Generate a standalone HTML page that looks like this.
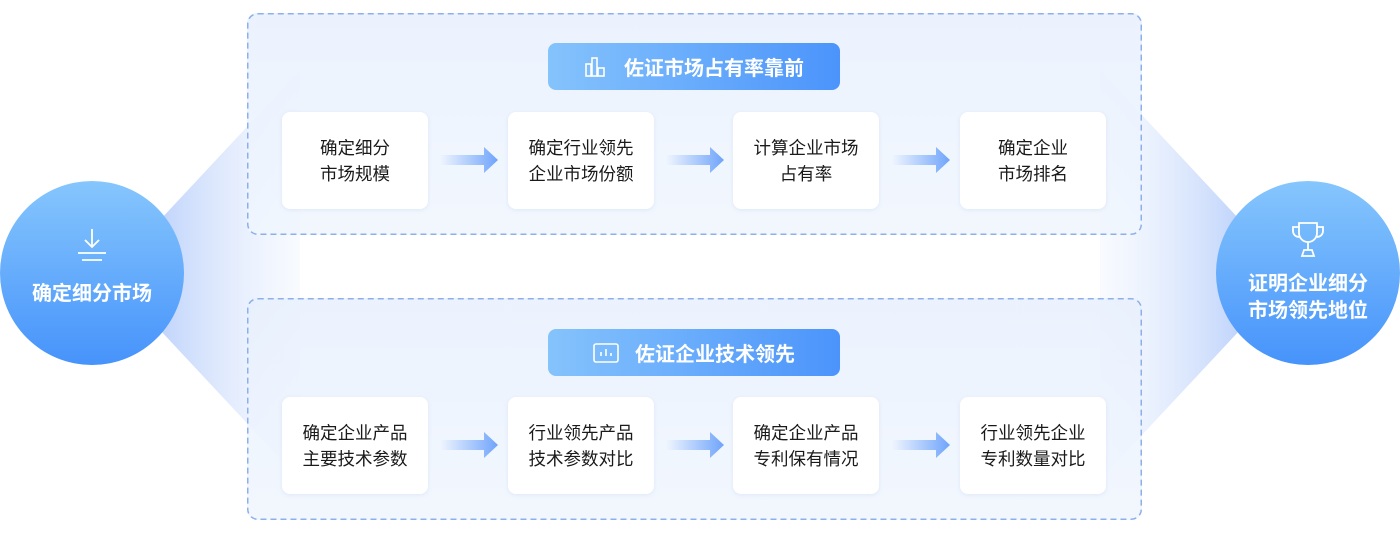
<!DOCTYPE html>
<html><head><meta charset="utf-8"><style>
body{margin:0;width:1400px;height:539px;background:#fff;position:relative;overflow:hidden;font-family:"Liberation Sans","Noto Sans CJK SC",sans-serif}
.panel{position:absolute;left:247px;width:895px;height:222px;border-radius:10px;background:linear-gradient(180deg,rgba(232,240,253,.85),rgba(240,246,254,.85))}
.pill{position:absolute;left:548px;width:292px;height:47px;border-radius:8px;background:linear-gradient(90deg,#85c3fc,#4b94fb);color:#fff;font-size:20px;font-weight:bold;display:flex;align-items:center;justify-content:center;gap:16px}
.card{position:absolute;width:146px;height:97px;background:#fff;border-radius:8px;box-shadow:0 1px 4px rgba(120,150,200,.15);display:flex;align-items:center;justify-content:center;text-align:center;font-size:17.5px;line-height:26px;color:#1a1a1a}
.circ{position:absolute;width:184px;height:184px;border-radius:50%;background:linear-gradient(180deg,#86c6fd,#4693fb);color:#fff;font-weight:bold;font-size:20px;text-align:center;line-height:27px}
</style></head><body>
<svg style="position:absolute;left:0;top:0" width="1400" height="539">
<defs>
<linearGradient id="gl" x1="0" x2="1"><stop offset="0" stop-color="#c0d4fb"/><stop offset="1" stop-color="#eef4fe" stop-opacity="0.4"/></linearGradient>
<linearGradient id="gr" x1="1" x2="0"><stop offset="0" stop-color="#c0d4fb"/><stop offset="1" stop-color="#eef4fe" stop-opacity="0.4"/></linearGradient>
<linearGradient id="ga" x1="0" x2="1"><stop offset="0" stop-color="#6fa4fb" stop-opacity="0"/><stop offset="1" stop-color="#6fa4fb"/></linearGradient>
</defs>
<polygon points="160,220 300,70 300,480 160,330" fill="url(#gl)"/>
<polygon points="1240,220 1100,70 1100,480 1240,330" fill="url(#gr)"/>
</svg>
<div class="panel" style="top:13px"></div>
<div class="panel" style="top:298px"></div>
<svg style="position:absolute;left:0;top:0" width="1400" height="539" fill="none" stroke="#8db0ea" stroke-width="1.5" stroke-dasharray="6 4">
<rect x="247.75" y="13.75" width="893.5" height="220.5" rx="10"/>
<rect x="247.75" y="298.75" width="893.5" height="220.5" rx="10"/>
</svg>
<div class="pill" style="top:43px"><svg width="24" height="22" viewBox="0 0 24 22" fill="none" stroke="#fff" stroke-width="1.6"><rect x="2" y="8" width="5" height="12"/><rect x="8" y="2" width="5" height="18"/><rect x="14" y="12" width="6" height="8"/></svg>佐证市场占有率靠前</div>
<div class="pill" style="top:329px"><svg width="26" height="20" viewBox="0 0 26 20" fill="none" stroke="#fff" stroke-width="1.6"><rect x="1" y="1" width="24" height="18" rx="2"/><line x1="8" y1="13" x2="8" y2="9"/><line x1="13" y1="13" x2="13" y2="6"/><line x1="18" y1="13" x2="18" y2="10"/></svg>佐证企业技术领先</div>

<div class="card" style="left:282px;top:112px">确定细分<br>市场规模</div>
<div class="card" style="left:508px;top:112px">确定行业领先<br>企业市场份额</div>
<div class="card" style="left:733px;top:112px">计算企业市场<br>占有率</div>
<div class="card" style="left:960px;top:112px">确定企业<br>市场排名</div>
<div class="card" style="left:282px;top:397px">确定企业产品<br>主要技术参数</div>
<div class="card" style="left:508px;top:397px">行业领先产品<br>技术参数对比</div>
<div class="card" style="left:733px;top:397px">确定企业产品<br>专利保有情况</div>
<div class="card" style="left:960px;top:397px">行业领先企业<br>专利数量对比</div>

<svg style="position:absolute;left:0;top:0" width="1400" height="539">
<g fill="url(#ga)">
<polygon points="0,-5 44,-5 44,-13 58,0 44,13 44,5 0,5" transform="translate(440,160)"/>
<polygon points="0,-5 44,-5 44,-13 58,0 44,13 44,5 0,5" transform="translate(666,160)"/>
<polygon points="0,-5 44,-5 44,-13 58,0 44,13 44,5 0,5" transform="translate(892,160)"/>
<polygon points="0,-5 44,-5 44,-13 58,0 44,13 44,5 0,5" transform="translate(440,445)"/>
<polygon points="0,-5 44,-5 44,-13 58,0 44,13 44,5 0,5" transform="translate(666,445)"/>
<polygon points="0,-5 44,-5 44,-13 58,0 44,13 44,5 0,5" transform="translate(892,445)"/>
</g></svg>

<div class="circ" style="left:0;top:181px"><svg style="position:absolute;left:72px;top:46px" width="40" height="40" viewBox="0 0 40 40" fill="none" stroke="#fff" stroke-width="1.8"><line x1="20" y1="2" x2="20" y2="20"/><polyline points="13,13 20,20 27,13"/><line x1="6" y1="26" x2="34" y2="26"/><line x1="10" y1="33" x2="30" y2="33"/></svg><div style="position:absolute;top:100px;width:100%">确定细分市场</div></div>
<div class="circ" style="left:1216px;top:181px"><svg style="position:absolute;left:72px;top:38px" width="40" height="40" viewBox="0 0 40 40" fill="none" stroke="#fff" stroke-width="1.8"><path d="M11 4h18v10a9 9 0 0 1-18 0z"/><path d="M11 8H5v4a6 6 0 0 0 6 6M29 8h6v4a6 6 0 0 1-6 6"/><line x1="20" y1="23" x2="20" y2="31"/><path d="M14 37l2-6h8l2 6z"/></svg><div style="position:absolute;top:90px;width:100%">证明企业细分<br>市场领先地位</div></div>
</body></html>
